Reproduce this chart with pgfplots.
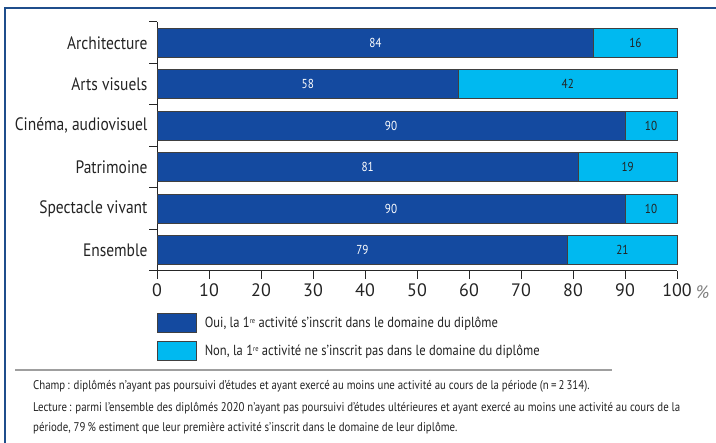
\documentclass[border=0pt]{standalone}
\usepackage{fontspec}
\setmainfont{PT Sans}
\newfontfamily\cond[FakeStretch=0.86]{PT Sans}
\usepackage{pgfplots}
\usepackage{pgfplotstable}
\pgfplotsset{compat=1.18}
\definecolor{dblue}{RGB}{20,74,160}
\definecolor{lblue}{RGB}{0,185,240}
\definecolor{framec}{RGB}{31,78,140}
\definecolor{txt}{RGB}{35,35,35}

\pgfplotstableread{
y oui non
0 79 21
1 90 10
2 81 19
3 90 10
4 58 42
5 84 16
}\data

\newcommand{\re}{\raisebox{0.55ex}{\fontsize{7.5bp}{9bp}\selectfont re}}

\begin{document}
\begin{tikzpicture}
\path[use as bounding box] (0bp,0bp) rectangle (716bp,443bp);
\draw[framec, line width=1.5bp] (5bp,-5bp) -- (5bp,435bp) -- (720bp,435bp);
\begin{axis}[
  at={(157bp,172bp)}, anchor=south west,
  width=520bp, height=249bp, scale only axis,
  xmin=0, xmax=100, ymin=-0.5, ymax=5.5,
  xbar stacked, bar width=29bp,
  axis x line*=bottom, axis y line*=left,
  axis line style={line width=1bp, black!85},
  tick style={line width=1bp, black!85},
  tick align=outside, major tick length=8bp,
  xtick={0,10,...,100},
  /pgf/number format/assume math mode=true,
  xticklabel style={font=\fontsize{18bp}{20bp}\selectfont, text=txt, yshift=-1bp},
  ytick={-0.5,0.5,...,5.5}, yticklabels={},
  extra y ticks={0,1,2,3,4,5},
  extra y tick labels={Ensemble, Spectacle vivant, Patrimoine, {Cinéma, audiovisuel}, Arts visuels, Architecture},
  extra y tick style={major tick length=0pt, yticklabel style={font=\cond\fontsize{18bp}{20bp}\selectfont, text=txt, xshift=-6bp}},
  legend style={at={(0,0)}, anchor=north west, yshift=-42bp, draw=none, fill=none,
    inner sep=0pt, outer sep=0pt, row sep=8bp,
    font=\cond\fontsize{14.6bp}{17bp}\selectfont, text=txt},
  legend cell align=left,
  legend image code/.code={\draw[#1] (0bp,-9.5bp) rectangle (39bp,9.5bp); \path (45bp,0bp);},
  clip=false,
]
\addplot[fill=dblue, draw=black!75, line width=0.8bp] table[x=oui, y=y]{\data};
\addplot[fill=lblue, draw=black!75, line width=0.8bp] table[x=non, y=y]{\data};
\legend{{Oui, la 1\re{} activité s’inscrit dans le domaine du diplôme},
        {Non, la 1\re{} activité ne s’inscrit pas dans le domaine du diplôme}}
\node[anchor=base west, font=\fontsize{18bp}{20bp}\selectfont\itshape, text=gray, inner sep=0pt]
  at (rel axis cs:1,0) [xshift=19bp, yshift=-28bp] {\%};
\end{axis}
\begin{axis}[
  at={(157bp,172bp)}, anchor=south west,
  width=520bp, height=249bp, scale only axis,
  xmin=0, xmax=100, ymin=-0.5, ymax=5.5,
  hide axis, clip=false,
  nodes near coords, point meta=explicit symbolic,
]
\addplot[draw=none, mark=none, nodes near coords,
  every node near coord/.style={anchor=center, inner sep=0pt, text=white, font=\cond\fontsize{13bp}{15bp}\selectfont}]
  table[x expr=\thisrow{oui}/2, y=y, meta=oui]{\data};
\addplot[draw=none, mark=none, nodes near coords,
  every node near coord/.style={anchor=center, inner sep=0pt, text=txt, font=\cond\fontsize{13bp}{15bp}\selectfont}]
  table[x expr=\thisrow{oui}+\thisrow{non}/2, y=y, meta=non]{\data};
\end{axis}
\draw[gray!75, line width=1.5bp] (15bp,73bp) -- (612bp,73bp);
\begin{scope}[every node/.style={anchor=base west, inner sep=0pt, text=txt, font=\cond\fontsize{12.6bp}{14bp}\selectfont}]
\node at (33bp,53bp) {Champ\,: diplômés n’ayant pas poursuivi d’études et ayant exercé au moins une activité au cours de la période (n\,=\,2\,314).};
\node at (33bp,32bp) {Lecture\,: parmi l’ensemble des diplômés 2020 n’ayant pas poursuivi d’études ultérieures et ayant exercé au moins une activité au cours de la};
\node at (33bp,12bp) {période, 79\,\% estiment que leur première activité s’inscrit dans le domaine de leur diplôme.};
\end{scope}
\end{tikzpicture}
\end{document}
